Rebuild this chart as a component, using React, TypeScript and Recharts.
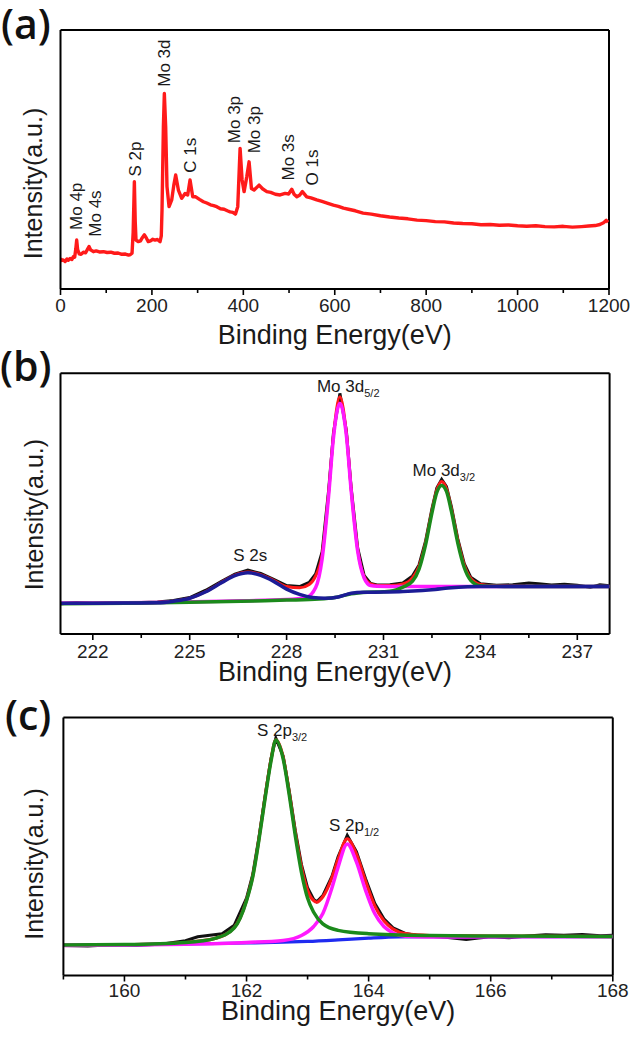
import React from 'react';
import { ComposedChart, Line, XAxis, YAxis, Scatter, ReferenceLine } from 'recharts';

const FONT = "'Liberation Sans', Arial, Helvetica, sans-serif";

// ---------- Panel (a): survey spectrum ----------
const surveyPoints: [number, number][] = [
  [0, 11.8], [3, 11.0], [6, 11.2], [10, 10.6], [14, 11.6], [17, 11.1], [21, 11.8], [25, 11.4], [28, 12.5], [31, 12.3],
  [33.5, 15.5], [35.4, 18.9], [37.5, 15.2], [41, 13.6], [45, 13.4], [50, 14.2], [55, 14.0], [59, 15.3], [62.4, 16.4], [66, 15.1],
  [72, 14.4], [78, 14.7], [85, 14.3], [94, 14.4], [102, 14.1], [110, 14.2], [118, 13.8], [126, 13.9], [134, 13.4], [142, 13.5],
  [149, 13.1], [153, 13.3], [156.5, 13.8], [159, 22], [161.6, 41.4], [163.5, 26], [165.2, 18.9], [170, 18.3], [175, 18.6], [179, 19.8],
  [183.5, 20.9], [188, 19.6], [192, 18.3], [197, 18.6], [202, 19.2], [207, 18.9], [212, 19.1], [217.8, 18.3], [220.5, 20.5], [222.1, 30.5],
  [225.1, 62.7], [227.2, 75.5], [230.1, 62.7], [233, 39.5], [237.5, 31.8], [243.3, 34.4], [248, 40.2], [252, 44.0], [257.9, 38.2], [265.2, 35.0],
  [272.5, 36.9], [278.3, 36.3], [283.4, 42.1], [289.3, 35.6], [295.8, 35.6], [304, 34.6], [312.6, 33.7], [320, 33.2], [328, 32.5], [335, 32.2],
  [341.8, 31.8], [350, 31.0], [358, 30.8], [365, 30.2], [371, 29.8], [377, 29.6], [382.7, 28.9], [387.8, 31.8], [392.9, 54.3], [397.3, 42.1],
  [401.7, 37.6], [407.5, 43.3], [412.6, 49.1], [417.7, 38.8], [423.6, 38.2], [434.5, 40.1], [442, 38.7], [451.3, 37.6], [460, 37.3], [470, 36.6],
  [480.5, 36.3], [491.4, 36.9], [499, 36.7], [506, 38.5], [511, 36.6], [517, 35.6], [523, 36.2], [529.2, 37.6], [538.7, 35.6], [548, 35.2],
  [560.6, 34.4], [572, 33.8], [585, 33.1], [597, 32.4], [608, 31.9], [619, 31.2], [630, 30.8], [645, 30.2], [662, 29.3], [680, 28.9],
  [700, 28.3], [720, 27.8], [740, 27.4], [760, 27.1], [780, 26.6], [800, 26.4], [820, 26.0], [840, 25.9], [860, 25.5], [880, 25.3],
  [900, 25.2], [920, 24.8], [940, 24.9], [960, 24.6], [980, 24.7], [1000, 24.4], [1020, 24.2], [1040, 24.4], [1060, 24.1], [1080, 24.0],
  [1100, 24.2], [1120, 23.9], [1140, 24.1], [1155, 24.3], [1170, 24.5], [1180, 24.9], [1188, 25.6], [1194, 26.5], [1198, 25.8],
];
const surveyLabels = ['Mo 4p', 'Mo 4s', 'S 2p', 'Mo 3d', 'C 1s', 'Mo 3p', 'Mo 3p', 'Mo 3s', 'O 1s'];
const surveyLabelEnergy = [34, 77, 164.5, 226.5, 285, 381.3, 423.5, 499.5, 551.5];
const surveyLabelLevel = [22.8, 20.2, 43.4, 78.1, 44.9, 56.3, 52.4, 41.9, 40.0];
const surveyMajorTicks = [0, 200, 400, 600, 800, 1000, 1200];
const surveyMinorTicks = [100, 300, 500, 700, 900, 1100];

// ---------- Panel (b): Mo 3d region ----------
const moRaw: [number, number][] = [
  [221, 11.6], [221.5, 12.0], [222, 11.7], [222.5, 11.9], [223, 11.8], [223.5, 12.1], [224, 12.3], [224.5, 12.9], [225, 14.0], [225.5, 16.8],
  [226, 20.3], [226.4, 23.0], [226.8, 24.5], [227.2, 23.2], [227.6, 21.0], [228.0, 18.6], [228.4, 18.2], [228.7, 19.8], [228.9, 23.0], [229.1, 31.5],
  [229.3, 55], [229.45, 77], [229.65, 92.3], [229.85, 78], [230.0, 56], [230.2, 33], [230.4, 22.5], [230.6, 19.4], [230.8, 18.8], [231.2, 18.9],
  [231.6, 19.6], [231.9, 22.3], [232.1, 26.5], [232.3, 35.5], [232.5, 48], [232.65, 56], [232.8, 59.3], [232.95, 56.5], [233.1, 49], [233.3, 36.5],
  [233.5, 27], [233.7, 21.8], [234.0, 19.3], [234.5, 18.7], [235, 18.9], [235.5, 19.6], [235.8, 19.3], [236.2, 18.8], [236.6, 19.1], [237, 18.7],
  [237.4, 17.9], [237.7, 18.9], [238, 18.5],
];
const moEnvelope: [number, number][] = [
  [221, 11.8], [222, 11.8], [223, 11.9], [224, 12.1], [224.5, 12.6], [225, 13.7], [225.5, 16.3], [226, 19.9], [226.4, 22.6], [226.8, 23.8],
  [227.2, 22.8], [227.6, 20.6], [228.0, 18.2], [228.4, 17.7], [228.7, 19.0], [228.9, 22.3], [229.1, 30.5], [229.3, 54], [229.45, 76], [229.65, 91],
  [229.85, 77], [230.0, 55.5], [230.2, 32.5], [230.4, 22], [230.6, 19.2], [230.8, 18.6], [231.2, 18.6], [231.6, 19.2], [231.9, 21.6], [232.1, 26],
  [232.3, 35], [232.5, 47.3], [232.65, 55.2], [232.8, 58.5], [232.95, 55.7], [233.1, 48.2], [233.3, 36], [233.5, 26.5], [233.7, 21.4], [234.0, 19],
  [234.5, 18.5], [235, 18.3], [236, 18.2], [238, 18.2],
];
const mo3d52Fit: [number, number][] = [
  [221, 11.8], [224, 12.1], [226, 12.6], [228, 13.2], [228.6, 13.9], [228.9, 17.8], [229.1, 28.8], [229.3, 52.9], [229.45, 75.2], [229.65, 88.5],
  [229.85, 76.2], [230.0, 54.9], [230.2, 31.8], [230.4, 21.5], [230.6, 18.6], [230.8, 18.3], [231.5, 18.2], [238, 18.2],
];
const mo3d32Fit: [number, number][] = [
  [221, 11.6], [223, 11.8], [225, 12.2], [227, 12.7], [228, 13.0], [229, 13.4], [229.5, 14.0], [230, 15.4], [230.5, 16.0], [231, 16.2],
  [231.3, 16.6], [231.6, 18.0], [231.9, 20.3], [232.1, 24.9], [232.3, 34.1], [232.5, 46.5], [232.65, 54.3], [232.8, 57.0], [232.95, 54.7], [233.1, 47.2],
  [233.3, 34.9], [233.5, 25.5], [233.7, 20.6], [234.0, 18.5], [234.5, 18.3], [235, 18.2], [238, 18.2],
];
const s2sFit: [number, number][] = [
  [221, 11.8], [222, 11.8], [223, 11.9], [224, 12.0], [224.5, 12.6], [225, 13.7], [225.5, 16.2], [226, 19.8], [226.4, 22.4], [226.8, 23.5],
  [227.2, 22.5], [227.6, 20.2], [228.0, 17.2], [228.4, 15.2], [228.8, 14.0], [229.2, 13.7], [229.6, 14.2], [230.0, 15.6], [230.4, 16.0], [231, 16.1],
  [231.6, 16.3], [232.2, 16.7], [232.6, 17.1], [233, 17.6], [233.6, 18.1], [234, 18.2], [238, 18.2],
];
const moLabelMain = ['S 2s', 'Mo 3d', 'Mo 3d'];
const moLabelSub = ['', '5/2', '3/2'];
const moLabelEnergy = [226.35, 228.94, 231.9];
const moLabelLevel = [28.1, 93.0, 60.6];
const moMajorTicks = [222, 225, 228, 231, 234, 237];
const moMinorTicks = [223.5, 226.5, 229.5, 232.5, 235.5];

// ---------- Panel (c): S 2p region ----------
const sRaw: [number, number][] = [
  [159, 11.6], [159.4, 11.4], [159.8, 11.9], [160.2, 11.7], [160.6, 12.1], [161.0, 13.5], [161.2, 15.0], [161.4, 15.6], [161.6, 16.2], [161.8, 19.5],
  [162.0, 30], [162.1, 39], [162.2, 53], [162.3, 69], [162.4, 84], [162.48, 92], [162.6, 85], [162.7, 71.5], [162.8, 56], [162.9, 43],
  [163.0, 34], [163.1, 29.5], [163.15, 28.6], [163.25, 31], [163.4, 38.5], [163.5, 46], [163.65, 54.3], [163.8, 48], [163.95, 37.5], [164.1, 28],
  [164.25, 22], [164.4, 18.5], [164.6, 16.3], [164.8, 15.5], [165.0, 15.2], [165.3, 14.7], [165.6, 14.0], [165.8, 14.5], [166.0, 15.0], [166.3, 14.6],
  [166.6, 15.3], [166.9, 15.8], [167.2, 15.6], [167.5, 15.9], [167.8, 15.4], [168, 15.6],
];
const sEnvelope: [number, number][] = [
  [159, 11.8], [160, 12.0], [161, 12.8], [161.5, 14.5], [161.8, 18.6], [162.0, 29.2], [162.1, 38.3], [162.2, 52.4], [162.3, 68.5], [162.4, 83.5],
  [162.48, 91.3], [162.6, 84.6], [162.7, 70.8], [162.8, 55.2], [162.9, 42], [163.0, 33], [163.1, 29], [163.15, 28.4], [163.25, 30.5], [163.4, 38],
  [163.5, 45], [163.65, 53], [163.8, 47], [163.95, 36.5], [164.1, 27], [164.25, 21.2], [164.4, 18], [164.6, 16.2], [165, 15.5], [166, 15.3], [168, 15.1],
];
const s2p32Fit: [number, number][] = [
  [159, 11.8], [160, 12.0], [161, 12.8], [161.5, 14.5], [161.8, 18.5], [162.0, 29], [162.1, 38], [162.2, 52], [162.3, 68], [162.4, 83],
  [162.48, 91.3], [162.6, 84], [162.7, 70], [162.8, 54], [162.9, 40], [163.0, 30], [163.1, 24.5], [163.25, 20], [163.5, 17.5], [164.0, 16.2],
  [165, 15.5], [166, 15.3], [168, 15.1],
];
const s2p12Fit: [number, number][] = [
  [159, 11.6], [160, 11.8], [161, 12.1], [162, 12.8], [162.6, 13.6], [162.9, 15.5], [163.1, 19], [163.25, 24], [163.4, 34], [163.5, 42],
  [163.65, 51], [163.8, 44], [163.95, 33], [164.1, 24], [164.25, 19], [164.4, 16.5], [164.6, 15.2], [165, 14.9], [166, 15.0], [168, 15.1],
];
const sBackground: [number, number][] = [
  [159, 11.7], [160, 11.9], [161, 12.2], [162, 12.6], [162.6, 12.9], [163, 13.2], [163.5, 13.8], [164, 14.5], [164.5, 15.0], [165, 15.1], [168, 15.1],
];
const sLabelMain = ['S 2p', 'S 2p'];
const sLabelSub = ['3/2', '1/2'];
const sLabelEnergy = [162.17, 163.35];
const sLabelLevel = [92.9, 56.0];
const sMajorTicks = [160, 162, 164, 166, 168];
const sMinorTicks = [159, 161, 163, 165, 167];

// ---------- helpers ----------
const toXY = (pts: [number, number][]) => pts.map(([x, y]) => ({ x, y }));

const makeTick = (majors: number[], labelDy: number) => (props: any) => {
  const { x, y, payload } = props;
  const v = payload.value;
  const isMajor = majors.some((m) => Math.abs(m - v) < 1e-6);
  return (
    <g>
      <line x1={x} x2={x} y1={y} y2={y + (isMajor ? 6 : 4)} stroke="#000" strokeWidth={1.6} />
      {isMajor && (
        <text x={x} y={y + labelDy} textAnchor="middle" fontSize={19} fontFamily={FONT} fill="#222">
          {String(v)}
        </text>
      )}
    </g>
  );
};

const xTitle = (dy: number) => (props: any) => {
  const vb = props.viewBox || {};
  return (
    <text x={vb.x + vb.width / 2} y={vb.y + dy} textAnchor="middle" fontSize={27} fontFamily={FONT} fill="#1a1a1a">
      Binding Energy(eV)
    </text>
  );
};

const yTitle = (bx: number, dyc: number) => (props: any) => {
  const vb = props.viewBox || {};
  const cx = vb.x + bx;
  const cy = vb.y + vb.height / 2 + dyc;
  return (
    <text x={cx} y={cy} transform={`rotate(-90 ${cx} ${cy})`} textAnchor="middle" fontSize={25} fontFamily={FONT} fill="#1a1a1a">
      Intensity(a.u.)
    </text>
  );
};

const rotatedLabel = (props: any) => {
  const { cx, cy, payload } = props;
  return (
    <text x={cx} y={cy} transform={`rotate(-90 ${cx} ${cy})`} dominantBaseline="central" fontSize={17} fontFamily={FONT} fill="#1a1a1a">
      {payload.label}
    </text>
  );
};

const subLabel = (props: any) => {
  const { cx, cy, payload } = props;
  return (
    <text x={cx} y={cy} fontSize={17} fontFamily={FONT} fill="#1a1a1a">
      {payload.label}
      {payload.sub ? (
        <tspan fontSize={11} dy={5}>
          {payload.sub}
        </tspan>
      ) : null}
    </text>
  );
};

const frameLines = (xMax: number) => [
  <ReferenceLine key="top" y={100} stroke="#000" strokeWidth={2} ifOverflow="visible" />,
  <ReferenceLine key="right" x={xMax} stroke="#000" strokeWidth={2} ifOverflow="visible" />,
];

const COL = {
  red: '#ff1a1a',
  black: '#111111',
  magenta: '#ff19ff',
  green: '#1b8a1b',
  navy: '#1c1c96',
  blue: '#1f2bf0',
};

export default function App() {
  const surveyData = toXY(surveyPoints);
  const surveyAnn = surveyLabels.map((label, i) => ({ x: surveyLabelEnergy[i], y: surveyLabelLevel[i], label }));
  const moAnn = moLabelMain.map((label, i) => ({ x: moLabelEnergy[i], y: moLabelLevel[i], label, sub: moLabelSub[i] }));
  const sAnn = sLabelMain.map((label, i) => ({ x: sLabelEnergy[i], y: sLabelLevel[i], label, sub: sLabelSub[i] }));

  return (
    <div style={{ position: 'absolute', left: 0, top: 0, width: 633, height: 1037, background: '#fff', overflow: 'hidden' }}>
      {/* Panel (a) */}
      <div style={{ position: 'absolute', left: 0, top: 0 }}>
        <ComposedChart width={633} height={360} margin={{ top: 30, right: 24, bottom: 15, left: 0 }}>
          <XAxis
            type="number"
            dataKey="x"
            domain={[0, 1200]}
            allowDataOverflow
            ticks={[...surveyMajorTicks, ...surveyMinorTicks].sort((a, b) => a - b)}
            interval={0}
            height={56}
            tickSize={0}
            tickMargin={0}
            tickLine={false}
            axisLine={{ stroke: '#000', strokeWidth: 2 }}
            tick={makeTick(surveyMajorTicks, 23)}
            label={{ content: xTitle(55) } as any}
          />
          <YAxis
            type="number"
            domain={[0, 100]}
            allowDataOverflow
            width={60.5}
            tick={false}
            tickLine={false}
            axisLine={{ stroke: '#000', strokeWidth: 2 }}
            label={{ content: yTitle(42, 24) } as any}
          />
          {frameLines(1200)}
          <Line data={surveyData} dataKey="y" type="linear" stroke={COL.red} strokeWidth={3.4} dot={false} isAnimationActive={false} strokeLinejoin="round" />
          <Scatter data={surveyAnn} dataKey="y" shape={rotatedLabel} isAnimationActive={false} />
        </ComposedChart>
      </div>

      {/* Panel (b) */}
      <div style={{ position: 'absolute', left: 0, top: 345 }}>
        <ComposedChart width={633} height={350} margin={{ top: 28.3, right: 23.4, bottom: 5, left: 0 }}>
          <XAxis
            type="number"
            dataKey="x"
            domain={[221, 238]}
            allowDataOverflow
            ticks={[...moMajorTicks, ...moMinorTicks].sort((a, b) => a - b)}
            interval={0}
            height={56}
            tickSize={0}
            tickMargin={0}
            tickLine={false}
            axisLine={{ stroke: '#000', strokeWidth: 2 }}
            tick={makeTick(moMajorTicks, 24)}
            label={{ content: xTitle(47) } as any}
          />
          <YAxis
            type="number"
            domain={[0, 100]}
            allowDataOverflow
            width={60.5}
            tick={false}
            tickLine={false}
            axisLine={{ stroke: '#000', strokeWidth: 2 }}
            label={{ content: yTitle(43, 11) } as any}
          />
          {frameLines(238)}
          <Line data={toXY(moRaw)} dataKey="y" type="linear" stroke={COL.black} strokeWidth={3} dot={false} isAnimationActive={false} />
          <Line data={toXY(moEnvelope)} dataKey="y" type="monotone" stroke={COL.red} strokeWidth={3} dot={false} isAnimationActive={false} />
          <Line data={toXY(mo3d52Fit)} dataKey="y" type="monotone" stroke={COL.magenta} strokeWidth={3.5} dot={false} isAnimationActive={false} />
          <Line data={toXY(mo3d32Fit)} dataKey="y" type="monotone" stroke={COL.green} strokeWidth={3.5} dot={false} isAnimationActive={false} />
          <Line data={toXY(s2sFit)} dataKey="y" type="monotone" stroke={COL.navy} strokeWidth={3.5} dot={false} isAnimationActive={false} />
          <Scatter data={moAnn} dataKey="y" shape={subLabel} isAnimationActive={false} />
        </ComposedChart>
      </div>

      {/* Panel (c) */}
      <div style={{ position: 'absolute', left: 0, top: 690 }}>
        <ComposedChart width={633} height={347} margin={{ top: 27.5, right: 20.2, bottom: 0, left: 0 }}>
          <XAxis
            type="number"
            dataKey="x"
            domain={[159, 168]}
            allowDataOverflow
            ticks={[...sMajorTicks, ...sMinorTicks].sort((a, b) => a - b)}
            interval={0}
            height={61.5}
            tickSize={0}
            tickMargin={0}
            tickLine={false}
            axisLine={{ stroke: '#000', strokeWidth: 2 }}
            tick={makeTick(sMajorTicks, 21)}
            label={{ content: xTitle(44) } as any}
          />
          <YAxis
            type="number"
            domain={[0, 100]}
            allowDataOverflow
            width={63.4}
            tick={false}
            tickLine={false}
            axisLine={{ stroke: '#000', strokeWidth: 2 }}
            label={{ content: yTitle(43, 17.5) } as any}
          />
          {frameLines(168)}
          <Line data={toXY(sRaw)} dataKey="y" type="linear" stroke={COL.black} strokeWidth={3} dot={false} isAnimationActive={false} />
          <Line data={toXY(sEnvelope)} dataKey="y" type="monotone" stroke={COL.red} strokeWidth={3.2} dot={false} isAnimationActive={false} />
          <Line data={toXY(sBackground)} dataKey="y" type="monotone" stroke={COL.blue} strokeWidth={3.2} dot={false} isAnimationActive={false} />
          <Line data={toXY(s2p12Fit)} dataKey="y" type="monotone" stroke={COL.magenta} strokeWidth={3.5} dot={false} isAnimationActive={false} />
          <Line data={toXY(s2p32Fit)} dataKey="y" type="monotone" stroke={COL.green} strokeWidth={3.5} dot={false} isAnimationActive={false} />
          <Scatter data={sAnn} dataKey="y" shape={subLabel} isAnimationActive={false} />
        </ComposedChart>
      </div>

      {/* Panel letters */}
      <svg width={633} height={1037} style={{ position: 'absolute', left: 0, top: 0, pointerEvents: 'none' }}>
        <text x={1} y={39} fontSize={41} fontWeight={600} fontFamily="'Open Sans', sans-serif" fill="#111">(a)</text>
        <text x={0} y={380.5} fontSize={41} fontWeight={600} fontFamily="'Open Sans', sans-serif" fill="#111">(b)</text>
        <text x={5} y={729.5} fontSize={41} fontWeight={600} fontFamily="'Open Sans', sans-serif" fill="#111">(c)</text>
      </svg>
    </div>
  );
}
